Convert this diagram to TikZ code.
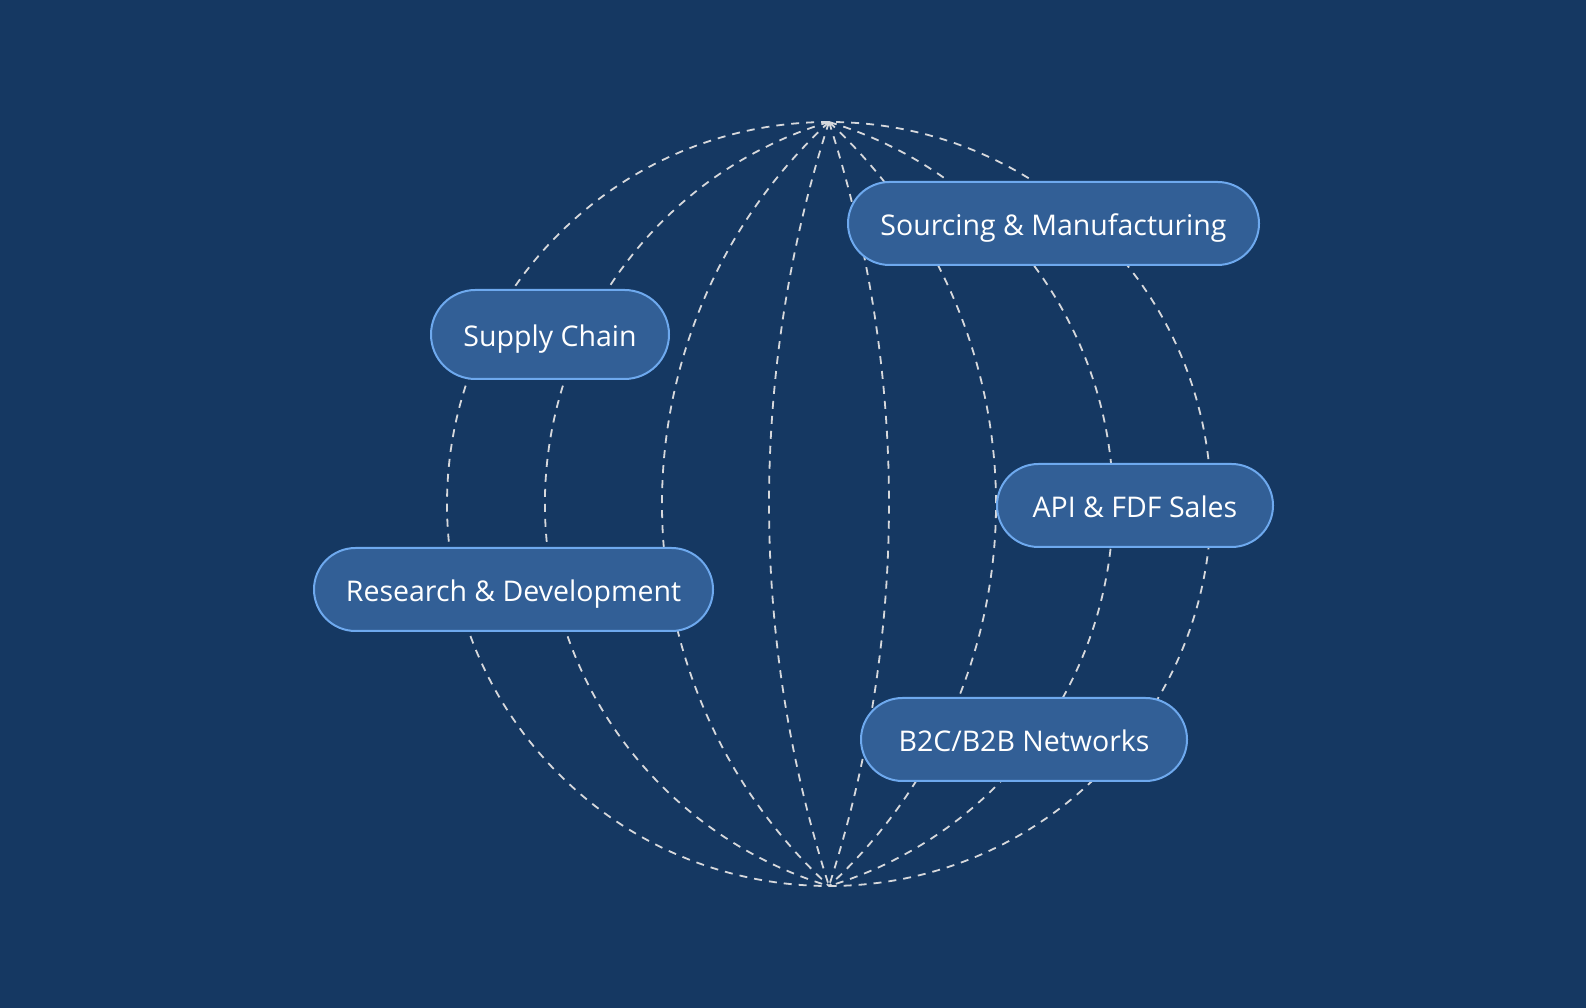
\documentclass[tikz,border=0pt]{standalone}
\usepackage{fontspec}
\setmainfont{Open Sans}
\definecolor{bg}{HTML}{153862}
\definecolor{pillfill}{HTML}{325F96}
\definecolor{pillline}{HTML}{6EA9EE}
\definecolor{dashcol}{HTML}{D6D8DC}
\begin{document}
\begin{tikzpicture}[x=1pt,y=1pt,
  meridian/.style={draw=dashcol, line width=1.8pt, dash pattern=on 8pt off 7pt},
  pill/.style={draw=pillline, line width=2pt, fill=pillfill, text=white,
    rounded corners=41.5pt, minimum height=83pt, inner sep=0pt,
    text height=25pt, text depth=0pt, font=\fontsize{28.5}{32}\selectfont}]
\fill[bg] (0,0) rectangle (1586,1008);
\useasboundingbox (0,0) rectangle (1586,1008);
\coordinate (top) at (829,886);
\coordinate (bot) at (829,122);
\coordinate (ctr) at (829,504);
% outer circle
\draw[meridian] (ctr) circle[radius=382];
% left meridians
\draw[meridian] (top) arc[start angle=162.147, end angle=197.853, radius=1246.03];
\draw[meridian] (top) arc[start angle=132.77, end angle=227.23, radius=520.40];
\draw[meridian] (top) arc[start angle=106.74, end angle=253.26, radius=398.91];
% right meridians
\draw[meridian] (top) arc[start angle=17.853, end angle=-17.853, radius=1246.03];
\draw[meridian] (top) arc[start angle=47.23, end angle=-47.23, radius=520.40];
\draw[meridian] (top) arc[start angle=73.26, end angle=-73.26, radius=398.91];
% pills
\node[pill, minimum width=411pt] (sourcing) at (1053.5,784.5) {Sourcing \& Manufacturing};
\node[pill, minimum width=238pt, minimum height=89pt, rounded corners=44.5pt] (supply) at (550,673.5) {Supply Chain};
\node[pill, minimum width=276pt] (api) at (1135,502.5) {API \& FDF Sales};
\node[pill, minimum width=399pt] (rd) at (513.5,418.5) {Research \& Development};
\node[pill, minimum width=326pt] (b2c) at (1024,268.5) {B2C/B2B Networks};
\end{tikzpicture}
\end{document}
